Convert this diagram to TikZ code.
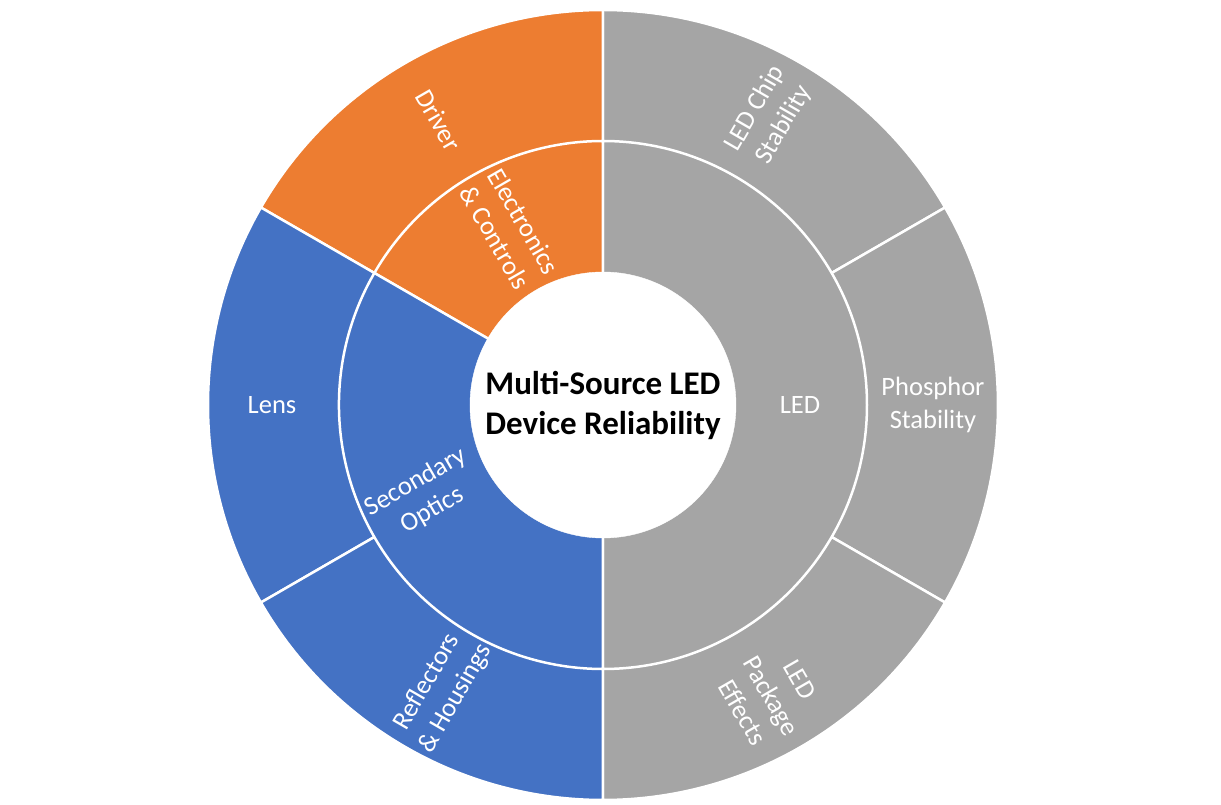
\documentclass[tikz,border=0pt]{standalone}
\usepackage{fontspec}
\setmainfont{Carlito}
\definecolor{orng}{HTML}{ED7D31}
\definecolor{blu}{HTML}{4472C4}
\definecolor{gry}{HTML}{A5A5A5}
\tikzset{
  wedge/.style={draw=white, line width=2.5pt},
  lbl/.style={text=white, font=\fontsize{26.5}{33}\selectfont, align=center, inner sep=0pt},
  ctr/.style={text=black, font=\fontsize{33}{40}\selectfont\bfseries, align=center, inner sep=0pt}
}
\begin{document}
\begin{tikzpicture}[x=1pt,y=1pt]
\useasboundingbox (-603,-400) rectangle (618,405);
% outer ring
\def\Ro{395}\def\Rm{264}\def\Ri{133}
\filldraw[wedge, fill=gry] (0,0) -- (90:\Ro) arc[start angle=90, end angle=30, radius=\Ro] -- cycle;
\filldraw[wedge, fill=gry] (0,0) -- (30:\Ro) arc[start angle=30, end angle=-30, radius=\Ro] -- cycle;
\filldraw[wedge, fill=gry] (0,0) -- (-30:\Ro) arc[start angle=-30, end angle=-90, radius=\Ro] -- cycle;
\filldraw[wedge, fill=orng] (0,0) -- (90:\Ro) arc[start angle=90, end angle=150, radius=\Ro] -- cycle;
\filldraw[wedge, fill=blu] (0,0) -- (150:\Ro) arc[start angle=150, end angle=210, radius=\Ro] -- cycle;
\filldraw[wedge, fill=blu] (0,0) -- (210:\Ro) arc[start angle=210, end angle=270, radius=\Ro] -- cycle;
% middle ring
\filldraw[wedge, fill=gry] (0,0) -- (90:\Rm) arc[start angle=90, end angle=-90, radius=\Rm] -- cycle;
\filldraw[wedge, fill=orng] (0,0) -- (90:\Rm) arc[start angle=90, end angle=150, radius=\Rm] -- cycle;
\filldraw[wedge, fill=blu] (0,0) -- (150:\Rm) arc[start angle=150, end angle=270, radius=\Rm] -- cycle;
% centre
\filldraw[white] (0,0) circle[radius=\Ri];
\node[ctr] (title) at (0,0) {Multi-Source LED\\Device Reliability};
% labels
\node[lbl, rotate=-60] (driver) at (120:329) {Driver};
\node[lbl, rotate=-60] (elec) at (118:199) {Electronics\\\& Controls};
\node[lbl, rotate=60] (chip) at (60:333) {LED Chip\\Stability};
\node[lbl] (phos) at (0:330) {Phosphor\\Stability};
\node[lbl] (led) at (0:197) {LED};
\node[lbl, rotate=-60] (pkg) at (-60:336) {LED\\Package\\Effects};
\node[lbl] (lens) at (180:331) {Lens};
\node[lbl, rotate=30] (optics) at (207:201) {Secondary\\Optics};
\node[lbl, rotate=60] (refl) at (240.5:328) {Reflectors\\\& Housings};
\end{tikzpicture}
\end{document}
